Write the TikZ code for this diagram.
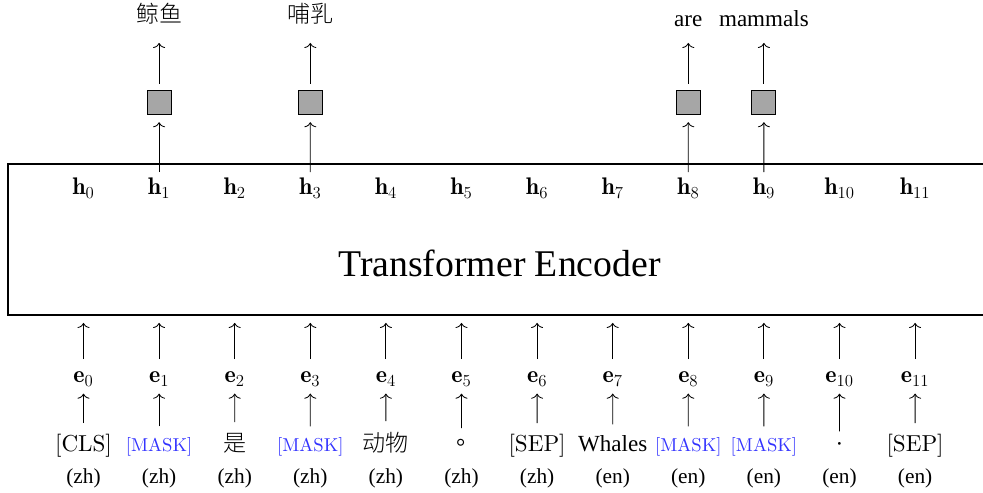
\RequirePackage{fix-cm}
\documentclass[tikz,border=0pt]{standalone}
\usepackage{fontspec}
\newfontfamily\tms{Liberation Serif}
\newfontfamily\cmten{lmroman10-regular}[Extension=.otf]
\newfontfamily\cjk{Noto Sans CJK SC Light}
\newfontfamily\cjktc{Noto Sans CJK TC}
\usetikzlibrary{arrows.meta}
\definecolor{maskblue}{RGB}{51,51,255}
\newcommand\masktok{{\color{maskblue}\cmten\fontsize{14}{16}\selectfont[MASK]}}
\begin{document}
\begin{tikzpicture}[x=0.75pt,y=-0.75pt,
  arr/.style={line width=0.63pt, -{To[length=3.8pt,width=9pt]}},
  hlab/.style={inner sep=0pt, anchor=base, text height=16.5pt, text depth=0pt, font=\fontsize{18}{20}\selectfont},
  elab/.style={inner sep=0pt, anchor=base, text height=17.5pt, text depth=8pt, font=\fontsize{18}{20}\selectfont},
  tok/.style={inner sep=0pt, anchor=base, font=\cmten\fontsize{17.3}{20}\selectfont},
  lang/.style={inner sep=0pt, anchor=base, font=\tms\fontsize{16}{18}\selectfont},
  outlab/.style={inner sep=0pt, anchor=base, text depth=12.5pt, font=\fontsize{17.3}{20}\selectfont},
  sqbox/.style={draw, line width=0.7pt, fill=gray!70, minimum size=18pt, inner sep=0pt},
  enc/.style={draw, line width=1.3pt, minimum width=737.25pt, minimum height=113pt, inner sep=0pt}
]
\useasboundingbox (0,0) rectangle (983,493);
% encoder box
\node[enc] (enc) at (499.5,239.65) {};
\node[anchor=base, inner sep=0pt, font=\tms\fontsize{28.3}{32}\selectfont] (title) at (499.5,276.7) {Transformer Encoder};
% hidden states and embeddings
\foreach \i in {0,...,11}{
  \pgfmathsetmacro\xx{83.5+75.6*\i}
  \node[hlab] (h\i) at (\xx,194.5) {$\mathbf{h}_{\i}$};
  \node[elab] (e\i) at (\xx,382.7) {$\mathbf{e}_{\i}$};
  \draw[arr, shorten >=5.3pt] (e\i.north) -- (e\i.north |- enc.south);
}
% tokens
\node[tok] (t0)  at (83.5,451)  {[CLS]};
\node[tok] (t1)  at (159.1,451) {\masktok};
\node[tok] (t2)  at (234.7,451) {\cjk 是};
\node[tok] (t3)  at (310.3,451) {\masktok};
\node[tok] (t4)  at (385.9,451) {\cjk 动物};
\node[tok] (t5)  at (461.5,451) {\cjktc 。};
\node[tok] (t6)  at (537.1,451) {[SEP]};
\node[tok] (t7)  at (612.7,451) {\tms Whales};
\node[tok] (t8)  at (688.3,451) {\masktok};
\node[tok] (t9)  at (763.9,451) {\masktok};
\node[tok] (t10) at (839.5,451) {\tms ·};
\node[tok] (t11) at (915.1,451) {[SEP]};
\foreach \i in {0,...,11}{
  \draw[arr, shorten <=7.8pt] (t\i.north) -- (e\i.south);
}
% language tags
\foreach \i/\l in {0/zh,1/zh,2/zh,3/zh,4/zh,5/zh,6/zh,7/en,8/en,9/en,10/en,11/en}{
  \pgfmathsetmacro\xx{83.5+75.6*\i}
  \node[lang] (l\i) at (\xx,483.5) {(\l)};
}
% prediction heads
\node[sqbox] (s1) at (159.1,102) {};
\node[sqbox] (s3) at (310.3,102) {};
\node[sqbox] (s8) at (688.3,102) {};
\node[sqbox] (s9) at (763.9,102) {};
\node[outlab] (o1) at (159.1,26) {\raisebox{2.6pt}{\cjk 鲸鱼}};
\node[outlab] (o3) at (310.3,26) {\raisebox{2.6pt}{\cjk 哺乳}};
\node[outlab] (o8) at (688.3,26) {\tms are};
\node[outlab] (o9) at (763.9,26) {\tms mammals};
\foreach \i in {1,3,8,9}{
  \draw[arr, shorten >=5.8pt] (h\i.north) -- (s\i.south);
  \draw[arr, shorten <=4.3pt] (s\i.north) -- (o\i.south);
}
\end{tikzpicture}
\end{document}
